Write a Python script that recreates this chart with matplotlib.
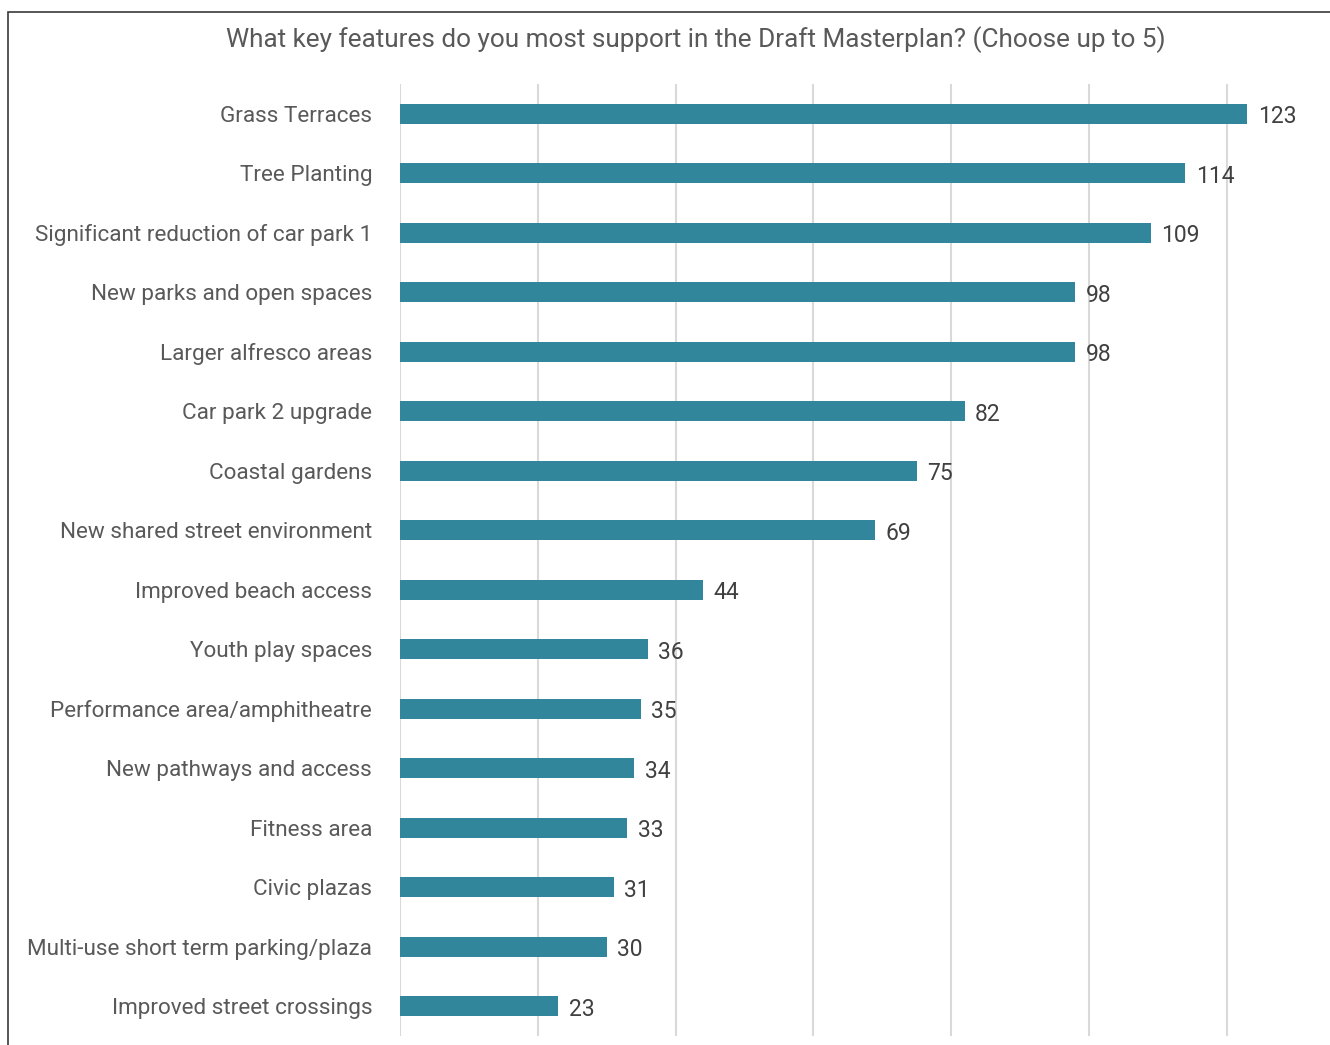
import matplotlib.pyplot as plt
from matplotlib.patches import Rectangle

features = [
    "Grass Terraces",
    "Tree Planting",
    "Significant reduction of car park 1",
    "New parks and open spaces",
    "Larger alfresco areas",
    "Car park 2 upgrade",
    "Coastal gardens",
    "New shared street environment",
    "Improved beach access",
    "Youth play spaces",
    "Performance area/amphitheatre",
    "New pathways and access",
    "Fitness area",
    "Civic plazas",
    "Multi-use short term parking/plaza",
    "Improved street crossings",
]
votes = [123, 114, 109, 98, 98, 82, 75, 69, 44, 36, 35, 34, 33, 31, 30, 23]
grid_ticks = [0, 20, 40, 60, 80, 100, 120]

W, H = 1330, 1045
BAR = "#31869B"
TEXT = "#595959"

plt.rcParams["font.family"] = ["Roboto", "DejaVu Sans"]

fig = plt.figure(figsize=(W / 100, H / 100), dpi=100)
fig.patch.set_facecolor("white")

# axes placed in pixel terms: x 400..1330, y 84..1036
ax = fig.add_axes([400 / W, 1 - 1036 / H, (1330 - 400) / W, (1036 - 84) / H])

ypos = list(range(len(features)))
ax.barh(ypos, votes, height=0.33, color=BAR, zorder=3)

for y, v in zip(ypos, votes):
    ax.text(v + 1.5, y + 0.05, str(v), va="center", ha="left",
            fontsize=16.5, color="#404040")

ax.set_xlim(0, 135)
ax.set_ylim(len(features) - 0.5, -0.5)
ax.set_xticks(grid_ticks)
ax.set_xticklabels([])
ax.tick_params(axis="x", length=0)
ax.tick_params(axis="y", length=0, pad=20)
ax.set_yticks(ypos)
ax.set_yticklabels(features, fontsize=16.2, color=TEXT)
ax.xaxis.grid(True, color="#D9D9D9", linewidth=1.5, zorder=0)
ax.set_axisbelow(True)
for s in ax.spines.values():
    s.set_visible(False)

fig.text(696 / W, 1 - 40 / H,
         "What key features do you most support in the Draft Masterplan? (Choose up to 5)",
         ha="center", va="center", fontsize=18.8, color=TEXT)

# chart border (only top and left are visible in the crop)
fig.patches.append(Rectangle((8 / W, -0.05), 1.1, 1 - 12 / H + 0.05,
                             transform=fig.transFigure, fill=False,
                             edgecolor="#3A3A3A", linewidth=1.2))

fig.savefig("out.png", dpi=100, facecolor="white")
